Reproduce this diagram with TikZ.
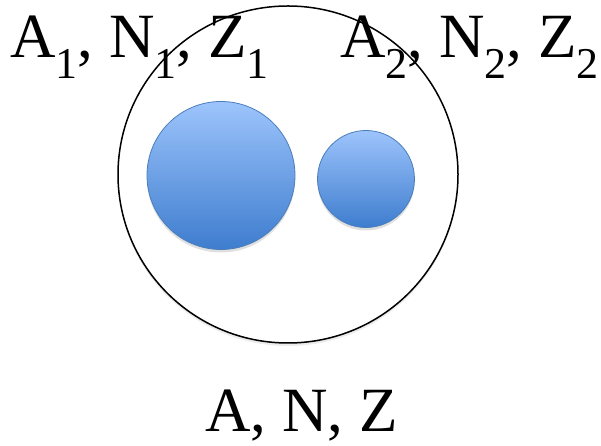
\documentclass[tikz,border=0pt]{standalone}
\usepackage{fontspec}
\setmainfont{Liberation Serif}
\usetikzlibrary{shapes.geometric,shadows,positioning}
\newcommand{\lowidx}[1]{\raisebox{-0.33em}{\fontsize{44}{44}\selectfont #1}}

\definecolor{nucTop}{RGB}{157,196,252}
\definecolor{nucBot}{RGB}{62,125,206}
\definecolor{nucEdge}{RGB}{74,126,187}

\tikzset{
  nucleus/.style={circle,draw=nucEdge,line width=0.8pt,top color=nucTop,bottom color=nucBot,
    drop shadow={opacity=0.25,shadow xshift=0pt,shadow yshift=-3pt}},
  label/.style={inner sep=0pt,font=\fontsize{63}{70}\selectfont}
}

\begin{document}
\begin{tikzpicture}[x=1pt,y=1pt]
  \useasboundingbox (0,0) rectangle (601,446);
  % compound system
  \node[ellipse,minimum width=340pt,minimum height=337pt,inner sep=0pt,
    drop shadow={opacity=0.15,shadow xshift=0pt,shadow yshift=-3pt},fill=white] (cn) at (288,271.5) {};
  % fragments
  \node[nucleus,minimum size=148pt] (big) at (221,270.5) {};
  \node[nucleus,minimum size=97pt] (small) at (366,267) {};
  % labels
  \node[label,anchor=base west] (lab1) at (10,388) {A\lowidx{1}, N\lowidx{1}, Z\lowidx{1}};
  \node[label,anchor=base west] (lab2) at (340,388) {A\lowidx{2}, N\lowidx{2}, Z\lowidx{2}};
  \node[label,anchor=base] (lab0) at (301.5,14) {A, N, Z};
  \draw[line width=1.5pt] (cn.center) ellipse[x radius=170pt,y radius=168.5pt];
\end{tikzpicture}
\end{document}
